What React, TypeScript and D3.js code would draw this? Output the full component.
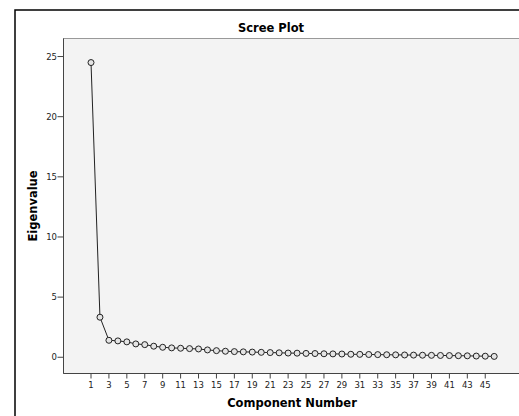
import React from "react";
import * as d3 from "d3";

const components: number[] = d3.range(1, 47);
const eigenvalues: number[] = [
  24.5, 3.33, 1.41, 1.36, 1.28, 1.11, 1.05, 0.92, 0.83, 0.78,
  0.75, 0.72, 0.69, 0.61, 0.55, 0.5, 0.47, 0.45, 0.43, 0.41,
  0.39, 0.37, 0.35, 0.34, 0.32, 0.31, 0.29, 0.28, 0.27, 0.25,
  0.24, 0.23, 0.22, 0.21, 0.2, 0.19, 0.18, 0.17, 0.16, 0.15,
  0.14, 0.13, 0.12, 0.1, 0.09, 0.07,
];
const xTicks: number[] = d3.range(1, 46, 2);
const yTicks: number[] = [0, 5, 10, 15, 20, 25];
const title = "Scree Plot";
const xLabel = "Component Number";
const yLabel = "Eigenvalue";

export default function App() {
  const W = 519, H = 416;
  const left = 63.5, right = 521, top = 38.5, bottom = 373.5;
  const x = d3.scaleLinear().domain([1, 46]).range([91, 494.2]);
  const y = d3.scaleLinear().domain([-1.35, 26.5]).range([bottom, top]);
  const pts = components.map((c, i) => [x(c), y(eigenvalues[i])] as [number, number]);
  const line = d3.line()(pts) || "";
  const font = "'DejaVu Sans', Verdana, sans-serif";
  return (
    <div style={{ position: "absolute", left: 0, top: 0 }}>
      <svg width={W} height={H} style={{ display: "block", background: "#fff" }}>
        <rect x={15} y={10} width={W} height={H} fill="#fff" stroke="#000" strokeWidth={1.5} />
        <rect x={left} y={top} width={right - left} height={bottom - top} fill="#f3f3f3" stroke="#999" strokeWidth={1} />
        <line x1={left} x2={left} y1={top} y2={bottom} stroke="#444" />
        <line x1={left} x2={right} y1={bottom} y2={bottom} stroke="#444" />
        <text x={271} y={32} textAnchor="middle" fontFamily={font} fontWeight="bold" fontSize={11.5} fill="#000">{title}</text>
        {yTicks.map((t) => (
          <g key={"y" + t}>
            <line x1={left - 6} x2={left} y1={y(t)} y2={y(t)} stroke="#444" />
            <text x={left - 6.5} y={y(t) + 3} textAnchor="end" fontFamily={font} fontSize={8.5} fill="#222">{t}</text>
          </g>
        ))}
        {xTicks.map((t) => (
          <g key={"x" + t}>
            <line x1={x(t)} x2={x(t)} y1={bottom} y2={bottom + 5} stroke="#444" />
            <text x={x(t)} y={388} textAnchor="middle" fontFamily={font} fontSize={8.5} fill="#222">{t}</text>
          </g>
        ))}
        <text x={292} y={407} textAnchor="middle" fontFamily={font} fontWeight="bold" fontSize={11.5} fill="#000">{xLabel}</text>
        <text transform={`translate(37,${(top + bottom) / 2}) rotate(-90)`} textAnchor="middle" fontFamily={font} fontWeight="bold" fontSize={11.5} fill="#000">{yLabel}</text>
        <path d={line} fill="none" stroke="#222" strokeWidth={1} />
        {pts.map((p, i) => (
          <circle key={i} cx={p[0]} cy={p[1]} r={3} fill="#e4e4e4" stroke="#222" strokeWidth={1} />
        ))}
      </svg>
    </div>
  );
}
